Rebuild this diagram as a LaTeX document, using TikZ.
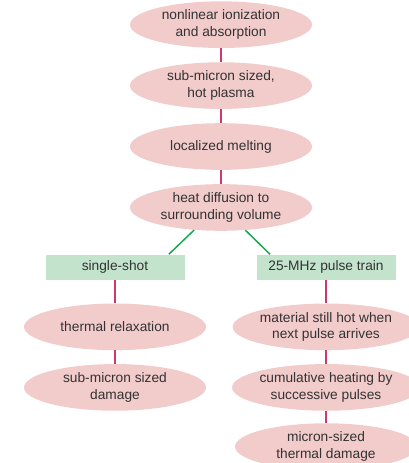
\documentclass[tikz,border=0pt]{standalone}
\usepackage{fontspec}
\setmainfont{Liberation Sans}
\usetikzlibrary{shapes.geometric}
\usetikzlibrary{positioning}
\definecolor{blobpink}{HTML}{F2CBCB}
\definecolor{boxgreen}{HTML}{C3E3CD}
\definecolor{linkred}{HTML}{D0386A}
\definecolor{splitgreen}{HTML}{16A64C}
\definecolor{inkgrey}{HTML}{333333}
\newcommand{\blob}[3]{\node[blob](#1)[#2]{#3}}
\newcommand{\branch}[3]{\node[branch](#1)[#2]{#3}}

\begin{document}
\begin{tikzpicture}[node distance = 10.3pt,
  font=\fontsize{10.3}{12.5}\selectfont, text=inkgrey,
  blob/.style={ellipse,fill=blobpink,minimum width=136.5pt,minimum height=35pt,inner sep=0pt,align=center},
  branch/.style={rectangle,fill=boxgreen,minimum width=104.25pt,minimum height=18.75pt,inner sep=0pt},
  link/.style={draw=linkred,line width=1.2pt},
  split/.style={draw=splitgreen,line width=1.1pt}]

\useasboundingbox (0,0) rectangle (306pt,-347.25pt);

% common path
\blob{ion}{at={(165.75pt,-18.5pt)}}{nonlinear ionization\\and absorption};
\blob{plasma}{below = of ion}{sub-micron sized,\\hot plasma};
\blob{melt}{below = of plasma}{localized melting};
\blob{heat}{below = of melt}{heat diffusion to\\surrounding volume};
\draw[link] (ion) -- (plasma);
\draw[link] (plasma) -- (melt);
\draw[link] (melt) -- (heat);

% single shot
\branch{single}{below = 17.4pt of heat, xshift=-79.5pt}{single-shot};
\blob{relax}{below = 17.6pt of single}{thermal relaxation};
\blob{small}{below = 10pt of relax}{sub-micron sized\\damage};
\draw[link] (single) -- (relax);
\draw[link] (relax) -- (small);

% pulse train
\branch{train}{below = 17.4pt of heat, xshift=78.75pt}{25-MHz pulse train};
\blob{hot}{below = 17.6pt of train}{material still hot when\\next pulse arrives};
\blob{accum}{below = 10pt of hot}{cumulative heating by\\successive pulses};
\blob{large}{below = 9pt of accum}{micron-sized\\thermal damage};
\draw[link] (train) -- (hot);
\draw[link] (hot) -- (accum);
\draw[link] (accum) -- (large);

\draw[split] (heat.-140) -- ([xshift=40.4pt]single.north);
\draw[split] (heat.-43) -- ([xshift=-42pt]train.north);

\end{tikzpicture}
\end{document}
